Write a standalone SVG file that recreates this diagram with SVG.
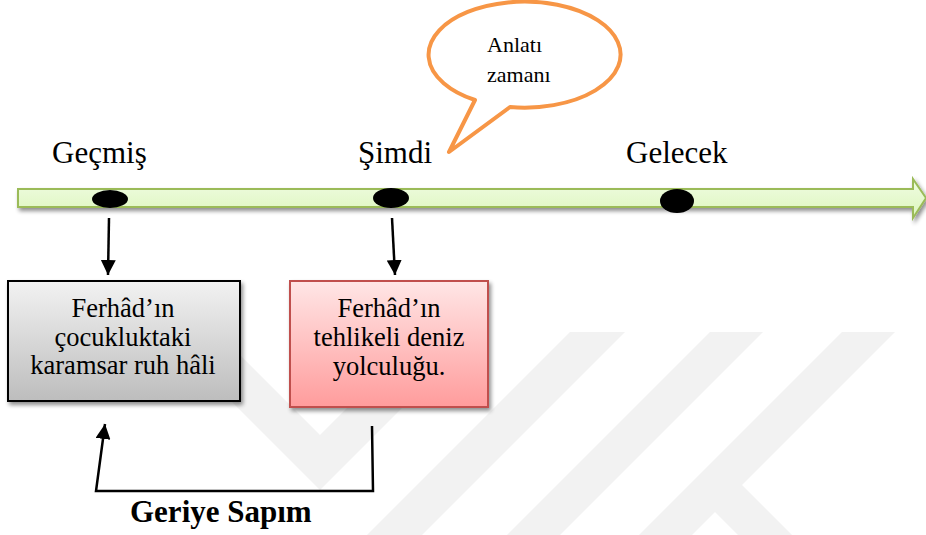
<svg xmlns="http://www.w3.org/2000/svg" width="926" height="535" viewBox="0 0 926 535">
  <style>
    text { font-family: 'Liberation Serif', 'Times New Roman', Tinos, 'DejaVu Serif', serif; fill: #000; }
    .big { font-size: 31px; }
    .box { font-size: 26.5px; text-anchor: middle; }
    .small { font-size: 22px; }
    .conn { stroke: #000; stroke-width: 2.5; fill: none; }
    .mark { fill: #f2f2f2; }
  </style>
  <defs>
    <linearGradient id="gTime" x1="0" y1="0" x2="0" y2="1">
      <stop offset="0" stop-color="#f0fce2"/>
      <stop offset="1" stop-color="#dcf6bd"/>
    </linearGradient>
    <linearGradient id="gGray" x1="0" y1="0" x2="0" y2="1">
      <stop offset="0" stop-color="#f2f2f2"/>
      <stop offset="1" stop-color="#bdbdbd"/>
    </linearGradient>
    <linearGradient id="gRed" x1="0" y1="0" x2="0" y2="1">
      <stop offset="0" stop-color="#ffe6e6"/>
      <stop offset="1" stop-color="#ff9c9c"/>
    </linearGradient>
    <filter id="shadow" x="-10%" y="-20%" width="130%" height="160%">
      <feGaussianBlur in="SourceAlpha" stdDeviation="2"/>
      <feOffset dx="2" dy="3" result="b"/>
      <feComponentTransfer><feFuncA type="linear" slope="0.45"/></feComponentTransfer>
      <feMerge><feMergeNode/><feMergeNode in="SourceGraphic"/></feMerge>
    </filter>
    <marker id="head" viewBox="0 0 10 10" refX="10" refY="5" markerWidth="15" markerHeight="15" markerUnits="userSpaceOnUse" orient="auto">
      <path d="M0,0 L10,5 L0,10 Z" fill="#000"/>
    </marker>
  </defs>

  <rect width="926" height="535" fill="#fff"/>

  <!-- faint background emblem -->
  <g id="emblem">
    <polygon class="mark" points="162,332 217,332 320,435 423,332 478,332 320,490"/>
    <polygon class="mark" points="570,332 625,332 422,535 367,535"/>
    <polygon class="mark" points="710,332 763,332 560,535 507,535"/>
    <polygon class="mark" points="842,332 895,332 692,535 639,535"/>
    <polygon class="mark" points="713,510 740,483 792,535 738,535"/>
  </g>

  <!-- time axis -->
  <g id="timeline">
    <polygon points="18,189 913,189 913,179 926,198 913,218 913,207 18,207" fill="url(#gTime)" stroke="#9bbb59" stroke-width="2" stroke-linejoin="miter" filter="url(#shadow)"/>
    <ellipse cx="110" cy="199" rx="18" ry="9" fill="#000"/>
    <ellipse cx="391" cy="198" rx="18" ry="10" fill="#000"/>
    <ellipse cx="677" cy="201" rx="17" ry="12" fill="#000"/>
  </g>

  <g id="label-past"><text class="big" x="52" y="163">Geçmiş</text></g>
  <g id="label-now"><text class="big" x="358" y="163">Şimdi</text></g>
  <g id="label-future"><text class="big" x="626" y="163">Gelecek</text></g>

  <!-- speech bubble -->
  <g id="bubble">
    <path d="M510,107 A96,53 0 1,0 475,100 L449,152 Z" fill="#fff" stroke="#f79646" stroke-width="4" stroke-linejoin="round"/>
    <text class="small" x="487" y="52">Anlatı</text>
    <text class="small" x="487" y="82">zamanı</text>
  </g>

  <g id="box-past">
    <rect x="8" y="281" width="232" height="120" fill="url(#gGray)" stroke="#000" stroke-width="2" filter="url(#shadow)"/>
    <text class="box" x="123" y="317">Ferhâd’ın</text>
    <text class="box" x="123" y="346">çocukluktaki</text>
    <text class="box" x="123" y="374">karamsar ruh hâli</text>
  </g>

  <g id="box-now">
    <rect x="290" y="281" width="198" height="126" fill="url(#gRed)" stroke="#c0504d" stroke-width="2" filter="url(#shadow)"/>
    <text class="box" x="389" y="317">Ferhâd’ın</text>
    <text class="box" x="389" y="346">tehlikeli deniz</text>
    <text class="box" x="389" y="375">yolculuğu.</text>
  </g>

  <g id="connectors">
    <line class="conn" x1="109" y1="218" x2="108" y2="275" marker-end="url(#head)"/>
    <line class="conn" x1="392" y1="218" x2="395" y2="275" marker-end="url(#head)"/>
    <path class="conn" d="M372,426 L373,491 L96,491 L105,424" marker-end="url(#head)"/>
  </g>

  <g id="label-flashback">
    <text class="big" x="130" y="522" font-weight="bold">Geriye Sapım</text>
  </g>
</svg>
